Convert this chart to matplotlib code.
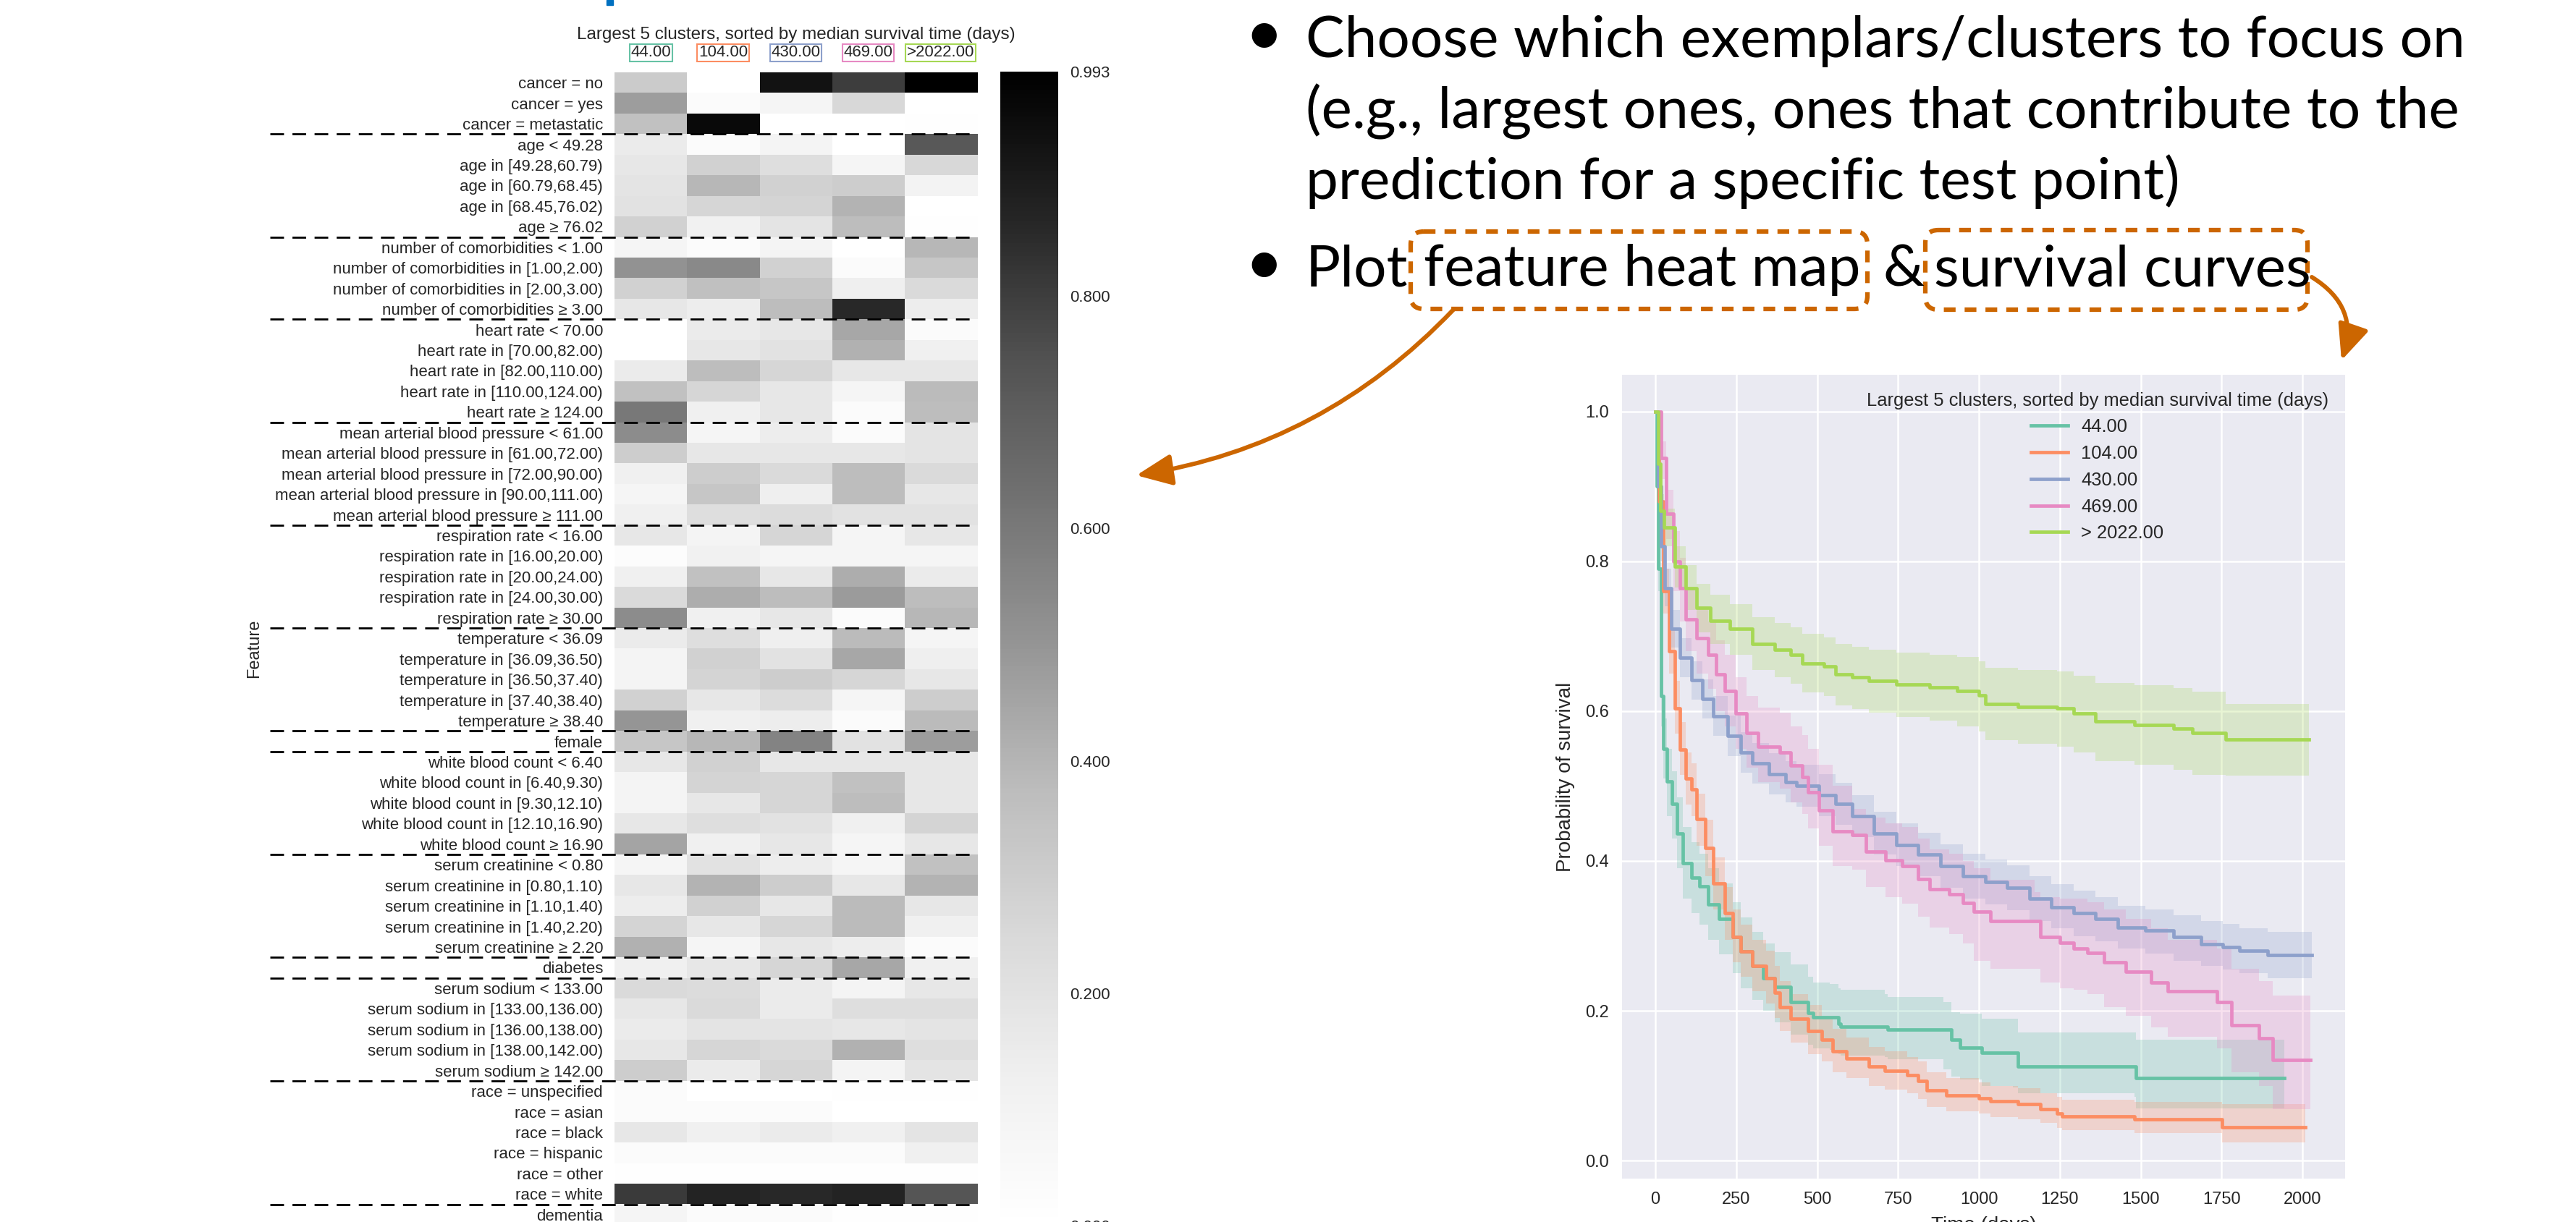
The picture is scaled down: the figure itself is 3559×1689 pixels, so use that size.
import numpy as np
import matplotlib
matplotlib.use("Agg")
from matplotlib import pyplot as plt
from matplotlib.patches import FancyArrowPatch, FancyBboxPatch, Rectangle

W, H, DPI = 3559, 1689, 100
PLOT_FONT = ["Liberation Sans", "DejaVu Sans"]
SLIDE_FONT = ["Lato", "DejaVu Sans"]
INK = "#262626"
ORANGE = "#cc6600"

plt.rcParams["font.family"] = PLOT_FONT

# clusters: heat map columns / survival curves
cluster_ticks = ["44.00", "104.00", "430.00", "469.00", ">2022.00"]
cluster_names = ["44.00", "104.00", "430.00", "469.00", "> 2022.00"]
cluster_colors = ["#66c2a5", "#fc8d62", "#8da0cb", "#e78ac3", "#a6d854"]
title = "Largest 5 clusters, sorted by median survival time (days)"

features = [
    "cancer = no", "cancer = yes", "cancer = metastatic",
    "age < 49.28", "age in [49.28,60.79)", "age in [60.79,68.45)",
    "age in [68.45,76.02)", "age ≥ 76.02",
    "number of comorbidities < 1.00", "number of comorbidities in [1.00,2.00)",
    "number of comorbidities in [2.00,3.00)", "number of comorbidities ≥ 3.00",
    "heart rate < 70.00", "heart rate in [70.00,82.00)", "heart rate in [82.00,110.00)",
    "heart rate in [110.00,124.00)", "heart rate ≥ 124.00",
    "mean arterial blood pressure < 61.00", "mean arterial blood pressure in [61.00,72.00)",
    "mean arterial blood pressure in [72.00,90.00)", "mean arterial blood pressure in [90.00,111.00)",
    "mean arterial blood pressure ≥ 111.00",
    "respiration rate < 16.00", "respiration rate in [16.00,20.00)",
    "respiration rate in [20.00,24.00)", "respiration rate in [24.00,30.00)",
    "respiration rate ≥ 30.00",
    "temperature < 36.09", "temperature in [36.09,36.50)", "temperature in [36.50,37.40)",
    "temperature in [37.40,38.40)", "temperature ≥ 38.40",
    "female",
    "white blood count < 6.40", "white blood count in [6.40,9.30)",
    "white blood count in [9.30,12.10)", "white blood count in [12.10,16.90)",
    "white blood count ≥ 16.90",
    "serum creatinine < 0.80", "serum creatinine in [0.80,1.10)",
    "serum creatinine in [1.10,1.40)", "serum creatinine in [1.40,2.20)",
    "serum creatinine ≥ 2.20",
    "diabetes",
    "serum sodium < 133.00", "serum sodium in [133.00,136.00)",
    "serum sodium in [136.00,138.00)", "serum sodium in [138.00,142.00)",
    "serum sodium ≥ 142.00",
    "race = unspecified", "race = asian", "race = black", "race = hispanic",
    "race = other", "race = white",
    "dementia",
]
group_sizes = [3, 5, 4, 5, 5, 5, 5, 1, 5, 5, 1, 5, 6, 1]

heat = [
    [0.31, 0.00, 0.93, 0.80, 0.993],
    [0.47, 0.03, 0.08, 0.25, 0.00],
    [0.35, 0.96, 0.00, 0.00, 0.01],
    [0.15, 0.03, 0.09, 0.00, 0.72],
    [0.17, 0.28, 0.22, 0.08, 0.25],
    [0.19, 0.39, 0.28, 0.30, 0.10],
    [0.20, 0.26, 0.27, 0.40, 0.00],
    [0.28, 0.11, 0.19, 0.37, 0.01],
    [0.08, 0.03, 0.09, 0.00, 0.39],
    [0.51, 0.54, 0.28, 0.03, 0.33],
    [0.28, 0.36, 0.33, 0.13, 0.24],
    [0.17, 0.14, 0.37, 0.86, 0.14],
    [0.00, 0.15, 0.17, 0.44, 0.03],
    [0.00, 0.17, 0.20, 0.41, 0.12],
    [0.15, 0.37, 0.26, 0.17, 0.17],
    [0.35, 0.26, 0.17, 0.08, 0.38],
    [0.60, 0.12, 0.17, 0.03, 0.37],
    [0.53, 0.08, 0.14, 0.03, 0.19],
    [0.30, 0.17, 0.17, 0.17, 0.19],
    [0.12, 0.30, 0.24, 0.37, 0.24],
    [0.08, 0.33, 0.13, 0.37, 0.17],
    [0.12, 0.22, 0.23, 0.20, 0.20],
    [0.17, 0.09, 0.26, 0.08, 0.17],
    [0.02, 0.11, 0.08, 0.08, 0.08],
    [0.12, 0.35, 0.17, 0.42, 0.15],
    [0.24, 0.42, 0.37, 0.48, 0.37],
    [0.53, 0.12, 0.17, 0.03, 0.39],
    [0.15, 0.22, 0.13, 0.38, 0.08],
    [0.09, 0.28, 0.20, 0.44, 0.13],
    [0.09, 0.27, 0.30, 0.26, 0.17],
    [0.28, 0.17, 0.23, 0.08, 0.30],
    [0.50, 0.12, 0.14, 0.03, 0.38],
    [0.33, 0.39, 0.56, 0.20, 0.47],
    [0.17, 0.28, 0.17, 0.17, 0.17],
    [0.09, 0.27, 0.26, 0.35, 0.17],
    [0.09, 0.17, 0.26, 0.37, 0.17],
    [0.17, 0.22, 0.20, 0.12, 0.27],
    [0.45, 0.12, 0.17, 0.08, 0.17],
    [0.08, 0.20, 0.14, 0.08, 0.35],
    [0.17, 0.40, 0.30, 0.17, 0.40],
    [0.14, 0.28, 0.17, 0.38, 0.17],
    [0.27, 0.17, 0.26, 0.38, 0.12],
    [0.41, 0.08, 0.17, 0.14, 0.03],
    [0.12, 0.17, 0.26, 0.44, 0.12],
    [0.24, 0.23, 0.15, 0.09, 0.17],
    [0.17, 0.24, 0.15, 0.22, 0.22],
    [0.15, 0.19, 0.19, 0.17, 0.19],
    [0.17, 0.26, 0.24, 0.41, 0.22],
    [0.30, 0.15, 0.26, 0.09, 0.19],
    [0.03, 0.00, 0.00, 0.01, 0.01],
    [0.03, 0.03, 0.03, 0.00, 0.00],
    [0.17, 0.12, 0.15, 0.12, 0.19],
    [0.03, 0.03, 0.03, 0.03, 0.12],
    [0.01, 0.01, 0.01, 0.01, 0.01],
    [0.81, 0.87, 0.86, 0.87, 0.73],
    [0.08, 0.03, 0.03, 0.01, 0.01],
]
cbar_ticks = [0.0, 0.2, 0.4, 0.6, 0.8, 0.993]

# Kaplan-Meier steps: time (days), survival, CI low, CI high
t_44 = [0, 4, 9, 17, 25, 36, 51, 68, 86, 111, 137, 163, 197, 240, 265, 300, 334, 368,
        419, 471, 488, 539, 565, 573, 710, 719, 890, 916, 942, 1010, 1104, 1121, 1481,
        1485, 1943]
s_44 = [1.0, 0.90, 0.79, 0.62, 0.55, 0.506, 0.476, 0.437, 0.397, 0.378, 0.366, 0.342,
        0.323, 0.299, 0.279, 0.26, 0.244, 0.232, 0.212, 0.197, 0.191, 0.191, 0.183, 0.179,
        0.179, 0.175, 0.175, 0.161, 0.151, 0.144, 0.144, 0.126, 0.126, 0.11, 0.11]
lo_44 = [1.0, 0.88, 0.76, 0.58, 0.51, 0.46, 0.43, 0.39, 0.35, 0.33, 0.315, 0.295, 0.275,
         0.25, 0.23, 0.215, 0.20, 0.185, 0.168, 0.155, 0.15, 0.148, 0.142, 0.14, 0.138,
         0.135, 0.122, 0.112, 0.108, 0.10, 0.098, 0.09, 0.085, 0.07, 0.07]
hi_44 = [1.0, 0.92, 0.82, 0.66, 0.59, 0.55, 0.52, 0.485, 0.445, 0.425, 0.41, 0.39, 0.37,
         0.345, 0.325, 0.305, 0.29, 0.278, 0.262, 0.245, 0.238, 0.236, 0.23, 0.228, 0.222,
         0.218, 0.212, 0.198, 0.196, 0.189, 0.189, 0.171, 0.171, 0.161, 0.161]

t_104 = [0, 10, 25, 43, 60, 77, 94, 111, 128, 154, 180, 214, 240, 265, 300, 342, 368, 385,
         419, 471, 514, 548, 590, 659, 710, 779, 813, 839, 899, 1001, 1036, 1121, 1190,
         1241, 1258, 1472, 1481, 1746, 1751, 2008]
s_104 = [1.0, 0.88, 0.76, 0.68, 0.604, 0.549, 0.51, 0.496, 0.456, 0.417, 0.37, 0.33,
         0.299, 0.279, 0.26, 0.244, 0.224, 0.205, 0.189, 0.173, 0.161, 0.146, 0.136, 0.126,
         0.12, 0.114, 0.106, 0.094, 0.087, 0.083, 0.079, 0.075, 0.069, 0.063, 0.059, 0.059,
         0.055, 0.055, 0.045, 0.045]
lo_104 = [1.0, 0.86, 0.73, 0.65, 0.57, 0.515, 0.475, 0.46, 0.42, 0.38, 0.335, 0.295, 0.265,
          0.245, 0.226, 0.21, 0.19, 0.173, 0.158, 0.142, 0.132, 0.118, 0.11, 0.10, 0.095,
          0.09, 0.082, 0.072, 0.066, 0.063, 0.058, 0.055, 0.05, 0.044, 0.041, 0.041, 0.037,
          0.037, 0.024, 0.024]
hi_104 = [1.0, 0.90, 0.79, 0.71, 0.64, 0.585, 0.545, 0.53, 0.49, 0.455, 0.405, 0.365, 0.335,
          0.315, 0.295, 0.28, 0.26, 0.24, 0.222, 0.208, 0.192, 0.176, 0.164, 0.152, 0.146,
          0.138, 0.132, 0.118, 0.11, 0.104, 0.10, 0.097, 0.09, 0.085, 0.081, 0.081, 0.078,
          0.078, 0.075, 0.075]

t_430 = [0, 8, 18, 29, 50, 77, 111, 146, 180, 223, 265, 300, 351, 402, 437, 505, 556, 608,
         676, 745, 813, 882, 950, 1019, 1087, 1156, 1224, 1293, 1361, 1430, 1515, 1601,
         1686, 1755, 1806, 1892, 2029]
s_430 = [1.0, 0.90, 0.82, 0.764, 0.71, 0.671, 0.641, 0.616, 0.593, 0.567, 0.545, 0.53,
         0.516, 0.505, 0.50, 0.488, 0.476, 0.46, 0.437, 0.421, 0.409, 0.393, 0.38, 0.372,
         0.364, 0.35, 0.338, 0.33, 0.323, 0.311, 0.307, 0.299, 0.289, 0.285, 0.28, 0.274,
         0.274]
lo_430 = [1.0, 0.88, 0.80, 0.74, 0.685, 0.645, 0.615, 0.59, 0.567, 0.54, 0.518, 0.503,
          0.489, 0.478, 0.472, 0.46, 0.448, 0.432, 0.409, 0.393, 0.38, 0.364, 0.35, 0.342,
          0.334, 0.32, 0.31, 0.30, 0.293, 0.283, 0.276, 0.267, 0.26, 0.255, 0.25, 0.244,
          0.244]
hi_430 = [1.0, 0.92, 0.84, 0.79, 0.735, 0.697, 0.667, 0.642, 0.62, 0.594, 0.572, 0.557,
          0.544, 0.533, 0.528, 0.516, 0.504, 0.488, 0.466, 0.45, 0.438, 0.422, 0.41, 0.402,
          0.394, 0.38, 0.369, 0.36, 0.352, 0.34, 0.335, 0.328, 0.32, 0.316, 0.31, 0.305,
          0.305]

t_469 = [0, 17, 34, 55, 77, 94, 128, 163, 188, 214, 248, 282, 317, 385, 419, 454, 471, 505,
         548, 608, 651, 711, 762, 813, 848, 908, 950, 985, 1036, 1173, 1190, 1250, 1293,
         1336, 1387, 1455, 1532, 1583, 1729, 1737, 1780, 1866, 1909, 2025]
s_469 = [1.0, 0.938, 0.864, 0.80, 0.764, 0.723, 0.697, 0.675, 0.649, 0.627, 0.597, 0.571,
         0.553, 0.545, 0.527, 0.512, 0.492, 0.468, 0.44, 0.435, 0.413, 0.401, 0.393, 0.376,
         0.362, 0.356, 0.344, 0.332, 0.32, 0.32, 0.299, 0.291, 0.283, 0.277, 0.265, 0.252,
         0.238, 0.226, 0.226, 0.212, 0.181, 0.163, 0.134, 0.134]
lo_469 = [1.0, 0.91, 0.83, 0.76, 0.72, 0.68, 0.65, 0.63, 0.60, 0.58, 0.55, 0.525, 0.505,
          0.497, 0.478, 0.463, 0.443, 0.42, 0.393, 0.388, 0.365, 0.352, 0.343, 0.326, 0.311,
          0.302, 0.29, 0.267, 0.256, 0.256, 0.238, 0.23, 0.228, 0.222, 0.205, 0.193, 0.178,
          0.165, 0.165, 0.15, 0.118, 0.10, 0.069, 0.069]
hi_469 = [1.0, 0.96, 0.895, 0.84, 0.805, 0.765, 0.74, 0.72, 0.695, 0.675, 0.645, 0.62,
          0.605, 0.598, 0.58, 0.568, 0.55, 0.528, 0.50, 0.47, 0.458, 0.45, 0.445, 0.43,
          0.415, 0.41, 0.40, 0.39, 0.375, 0.358, 0.352, 0.35, 0.35, 0.345, 0.335, 0.323,
          0.31, 0.295, 0.295, 0.283, 0.256, 0.24, 0.22, 0.22]

t_2022 = [0, 8, 15, 26, 60, 94, 128, 171, 231, 300, 368, 419, 454, 522, 556, 608, 659, 745,
          847, 933, 1001, 1019, 1121, 1241, 1293, 1361, 1481, 1601, 1661, 1763, 2020]
s_2022 = [1.0, 0.93, 0.867, 0.845, 0.793, 0.764, 0.738, 0.721, 0.71, 0.69, 0.682, 0.675,
          0.664, 0.66, 0.649, 0.645, 0.64, 0.636, 0.632, 0.627, 0.621, 0.61, 0.606, 0.604,
          0.597, 0.586, 0.582, 0.577, 0.571, 0.562, 0.562]
lo_2022 = [1.0, 0.91, 0.84, 0.82, 0.765, 0.735, 0.705, 0.69, 0.675, 0.655, 0.645, 0.637,
           0.625, 0.62, 0.608, 0.603, 0.598, 0.592, 0.587, 0.58, 0.573, 0.561, 0.556, 0.553,
           0.545, 0.533, 0.528, 0.522, 0.515, 0.514, 0.514]
hi_2022 = [1.0, 0.95, 0.89, 0.87, 0.82, 0.795, 0.77, 0.755, 0.743, 0.725, 0.718, 0.712,
           0.703, 0.698, 0.69, 0.686, 0.682, 0.678, 0.675, 0.672, 0.667, 0.658, 0.655, 0.653,
           0.647, 0.638, 0.635, 0.631, 0.626, 0.61, 0.61]

curves = [
    (t_44, s_44, lo_44, hi_44),
    (t_104, s_104, lo_104, hi_104),
    (t_430, s_430, lo_430, hi_430),
    (t_469, s_469, lo_469, hi_469),
    (t_2022, s_2022, lo_2022, hi_2022),
]

bullet_lines = [
    "Choose which exemplars/clusters to focus on",
    "(e.g., largest ones, ones that contribute to the",
    "prediction for a specific test point)",
]


def box(left, top, right, bottom):
    # pixel box (y down) -> figure fraction rect
    return [left / W, 1 - bottom / H, (right - left) / W, (bottom - top) / H]


fig = plt.figure(figsize=(W / DPI, H / DPI), dpi=DPI)

# ---- heat map -------------------------------------------------------------
ax_h = fig.add_axes(box(849, 100, 1350, 1693))
im = ax_h.imshow(np.array(heat), cmap="Greys", vmin=0, vmax=0.993,
                 aspect="auto", interpolation="nearest")
ax_h.set_yticks(range(len(features)))
ax_h.set_yticklabels(features, fontsize=16, color=INK)
ax_h.xaxis.tick_top()
ax_h.set_xticks(range(len(cluster_ticks)))
ax_h.set_xticklabels(cluster_ticks, fontsize=16, color=INK)
for lbl, c in zip(ax_h.get_xticklabels(), cluster_colors):
    lbl.set_bbox(dict(boxstyle="square,pad=0.08", fc="white", ec=c, lw=1.5))
ax_h.tick_params(axis="y", length=0, pad=11.5)
ax_h.tick_params(axis="x", length=0, pad=12)
for sp in ax_h.spines.values():
    sp.set_visible(False)
ax_h.set_ylabel("Feature", fontsize=17, color=INK, va="center")
ax_h.yaxis.set_label_coords(-0.993, 0.5)

for b in np.cumsum(group_sizes)[:-1]:
    ax_h.axhline(b - 0.5, xmin=-0.95, xmax=1.0, color="black", lw=2,
                 ls=(0, (6.8, 4.2)), clip_on=False, zorder=5)

fig.text(1099.5 / W, 1 - 48 / H, title, ha="center", va="center",
         fontsize=17.5, color=INK)

cax = fig.add_axes(box(1382, 99, 1462, 1694))
cb = fig.colorbar(im, cax=cax, ticks=cbar_ticks)
cb.ax.set_yticklabels([f"{t:.3f}" for t in cbar_ticks])
cb.outline.set_visible(False)
cb.ax.tick_params(length=0, pad=11.5, labelsize=16, labelcolor=INK)

# ---- survival curves ------------------------------------------------------
ax_s = fig.add_axes(box(2241, 518, 3240, 1629))
ax_s.set_facecolor("#eaeaf2")
for sp in ax_s.spines.values():
    sp.set_visible(False)
ax_s.grid(True, color="white", lw=1.8)
ax_s.set_axisbelow(True)

for (t, s, lo, hi), c, name in zip(curves, cluster_colors, cluster_names):
    ax_s.fill_between(t, lo, hi, step="post", color=c, alpha=0.25, lw=0)
    ax_s.step(t, s, where="post", color=c, lw=3.4, label=name)

ax_s.set_xlim(-103, 2132)
ax_s.set_ylim(-0.024, 1.049)
ax_s.set_xticks(range(0, 2001, 250))
ax_s.set_yticks([0.0, 0.2, 0.4, 0.6, 0.8, 1.0])
ax_s.set_yticklabels([f"{v:.1f}" for v in ax_s.get_yticks()])
ax_s.tick_params(length=0, pad=13, labelsize=17, labelcolor=INK)
ax_s.set_ylabel("Probability of survival", fontsize=20, color=INK, va="center")
ax_s.yaxis.set_label_coords(-0.078, 0.5)
ax_s.set_xlabel("Time (days)", fontsize=20, color=INK, va="top")
ax_s.xaxis.set_label_coords(0.5, -0.047)

leg = ax_s.legend(title=title, loc="upper right", bbox_to_anchor=(0.987, 0.988),
                  frameon=False, fontsize=18.4, title_fontsize=18.4,
                  labelspacing=0.5, handlelength=2.0, handletextpad=0.7,
                  borderaxespad=0, borderpad=0.4)
for txt in leg.get_texts():
    txt.set_color(INK)
leg.get_title().set_color(INK)

# ---- slide text and annotations (pixel coordinates) -----------------------
ax_o = fig.add_axes([0, 0, 1, 1], zorder=10)
ax_o.set_xlim(0, W)
ax_o.set_ylim(H, 0)
ax_o.axis("off")
ax_o.patch.set_alpha(0)

ax_o.add_patch(Rectangle((838, 0), 9, 7, color="#0070c0"))

# size the slide font so the first line spans the same width as on the slide
renderer = fig.canvas.get_renderer()
probe = ax_o.text(1804, 79, bullet_lines[0], fontsize=50, family=SLIDE_FONT)
slide_fs = 50 * 1600 / probe.get_window_extent(renderer).width
probe.remove()

for line, base in zip(bullet_lines, [79, 177, 275]):
    ax_o.text(1804, base, line, fontsize=slide_fs, family=SLIDE_FONT, va="baseline")
for cy in [50, 367]:
    ax_o.text(1746, cy, "•", fontsize=slide_fs * 1.15, family=SLIDE_FONT,
              ha="center", va="center")
for word, x in [("Plot", 1804), ("feature heat map", 1967), ("&", 2601),
                ("survival curves", 2672)]:
    ax_o.text(x, 395, word, fontsize=slide_fs, family=SLIDE_FONT, va="baseline")

for x0, y0, x1, y1 in [(1949, 320, 2580, 427), (2660, 318, 3188, 428)]:
    ax_o.add_patch(FancyBboxPatch((x0, y0), x1 - x0, y1 - y0,
                                  boxstyle="round,pad=0,rounding_size=18",
                                  fc="none", ec=ORANGE, lw=4.5, ls=(0, (2.6, 2))))

for start, end, rad in [((2008, 428), (1570, 657), -0.17),
                        ((3194, 383), (3235, 498), -0.4)]:
    ax_o.add_patch(FancyArrowPatch(start, end, connectionstyle=f"arc3,rad={rad}",
                                   arrowstyle="-|>,head_length=0.75,head_width=0.33",
                                   mutation_scale=40, lw=4.3, color=ORANGE,
                                   shrinkA=0, shrinkB=0))

fig.savefig("out.png", dpi=DPI)
